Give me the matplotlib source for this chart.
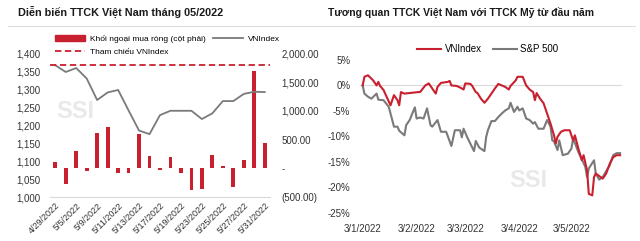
import matplotlib
matplotlib.use('Agg')
import matplotlib.pyplot as plt
import matplotlib.dates as mdates
import matplotlib.ticker as mticker
from matplotlib.lines import Line2D
from matplotlib.patches import Patch
import pandas as pd

plt.rcParams['font.family'] = ['Liberation Sans Narrow', 'Liberation Sans', 'DejaVu Sans']

RED = '#c8202f'
GRAY = '#7a7a7a'
LIGHT = '#d9d9d9'

# ---- left chart: May 2022 ----
days = ['4/29/2022', '5/4/2022', '5/5/2022', '5/6/2022', '5/9/2022', '5/10/2022',
        '5/11/2022', '5/12/2022', '5/13/2022', '5/16/2022', '5/17/2022', '5/18/2022',
        '5/19/2022', '5/20/2022', '5/23/2022', '5/24/2022', '5/25/2022', '5/26/2022',
        '5/27/2022', '5/30/2022', '5/31/2022']
vnindex_may = [1366.8, 1348, 1359, 1330, 1270, 1291, 1298, 1241, 1185, 1175, 1228,
               1240, 1240, 1240, 1217, 1233, 1267, 1267, 1287, 1293, 1292]
foreign_net = [116, -272, 295, -40, 618, 723, -75, -87, 590, 214, -35,
               197, -81, -370, -353, 231, 40, -324, 145, 1700, 445]
vnindex_ref = 1366.8

# ---- right chart: % change since start of year ----
vn_dates = ['01-03', '01-04', '01-06', '01-09', '01-11', '01-12', '01-13', '01-15', '01-17',
            '01-19', '01-21', '01-23', '01-24', '01-25', '01-27',
            '02-04', '02-05', '02-08', '02-10', '02-14', '02-15', '02-17', '02-21', '02-22',
            '02-23', '02-26', '02-28', '03-02',
            '03-03', '03-06', '03-07', '03-09', '03-10', '03-12', '03-14', '03-16', '03-18',
            '03-20', '03-22', '03-26', '03-28', '03-29', '04-01', '04-02',
            '04-05', '04-07', '04-09', '04-11', '04-12', '04-13', '04-15', '04-17', '04-19',
            '04-21', '04-23', '04-24', '04-25', '04-27', '04-29', '05-02',
            '05-04', '05-05', '05-07', '05-09', '05-10', '05-12', '05-13', '05-15', '05-16',
            '05-17', '05-21', '05-23', '05-25', '05-27', '05-29', '05-31']
vn_pct = [0.0, 1.7, 2.0, 1.0, 0.0, 0.7, -0.1, -0.9, -2.4, -3.9, -1.9, -2.9, -3.9, -1.3, -1.6,
          -1.3, -1.3, 0.0, 0.4, -1.6, -0.3, 0.5, 0.7, 0.9, 0.0, -0.1, -0.4, -0.8,
          0.4, 0.3, -0.1, -1.3, -1.5, -2.6, -3.4, -2.6, -1.6, -0.6, 0.3, -0.3, -0.8, -0.1, 1.0, 1.7,
          1.7, 0.0, -0.8, -1.3, -2.9, -1.5, -2.6, -3.5, -5.5, -7.5, -9.8, -11.4, -10.1, -9.1, -8.8, -8.8,
          -10.8, -9.8, -12.4, -14.7, -13.7, -16.7, -21.3, -21.6, -18.0, -17.3, -18.3, -17.3, -15.4,
          -14.1, -13.7, -13.7]
sp_dates = ['01-03', '01-04', '01-06', '01-08', '01-11', '01-12', '01-15', '01-18', '01-20',
            '01-21', '01-23', '01-24', '01-27', '01-28', '01-30', '02-02',
            '02-03', '02-05', '02-07', '02-09', '02-11', '02-12', '02-15', '02-17', '02-20',
            '02-23', '02-25', '02-28', '03-01', '03-02',
            '03-04', '03-08', '03-09', '03-11', '03-14', '03-15', '03-16', '03-18', '03-20',
            '03-22', '03-24', '03-26', '03-28', '03-29', '03-31', '04-02',
            '04-03', '04-05', '04-07', '04-09', '04-11', '04-12', '04-14', '04-17', '04-19',
            '04-21', '04-22', '04-23', '04-25', '04-26', '04-28', '05-01',
            '05-03', '05-04', '05-07', '05-11', '05-12', '05-13', '05-16', '05-17', '05-19',
            '05-21', '05-25', '05-27', '05-29', '05-31']
sp_pct = [0.0, -1.6, -2.2, -2.6, -1.6, -2.8, -2.9, -4.2, -6.8, -8.1, -8.1, -8.9, -9.8, -7.8,
          -6.8, -4.3,
          -6.5, -6.3, -6.5, -4.5, -7.8, -8.1, -6.8, -9.1, -9.1, -11.9, -8.8, -8.8, -10.2, -8.5,
          -10.1, -12.9, -10.9, -12.2, -12.9, -10.1, -8.8, -7.0, -7.0, -6.2, -5.5, -4.9, -4.5,
          -3.4, -5.2, -4.2,
          -4.9, -4.5, -6.5, -6.8, -7.5, -7.2, -8.5, -8.5, -6.8, -8.1, -10.8, -11.0, -12.7,
          -10.8, -13.7, -13.4,
          -12.4, -10.4, -13.1, -16.0, -18.0, -16.3, -14.7, -17.3, -18.5, -18.0, -15.7, -13.7,
          -13.3, -13.3]
month_ticks = ['2022-01-03', '2022-02-03', '2022-03-03', '2022-04-03', '2022-05-03']

fig = plt.figure(figsize=(6.4, 2.41), dpi=100)

# titles and separator
fig.text(18 / 640, 1 - 12 / 241, 'Diễn biến TTCK Việt Nam tháng 05/2022',
         fontsize=7.8, fontweight='bold', va='center', ha='left', color='#1a1a1a')
fig.text(328 / 640, 1 - 12 / 241, 'Tương quan TTCK Việt Nam với TTCK Mỹ từ đầu năm',
         fontsize=7.5, fontweight='bold', va='center', ha='left', color='#1a1a1a')
fig.add_artist(Line2D([8 / 640, 635 / 640], [1 - 25.5 / 241] * 2, color='#dedede', lw=0.8))

# ---- left ----
ax = fig.add_axes([50 / 640, 1 - 197 / 241, 220 / 640, (197 - 53.3) / 241])
ax2 = ax.twinx()
x = list(range(len(days)))
ax2.bar(x, foreign_net, width=0.36, color=RED)
ax2.set_ylim(-500, 2000)
ax2.yaxis.set_major_locator(mticker.MultipleLocator(500))


def money(v, pos):
    if v == 0:
        return '-'
    if v < 0:
        return f'({abs(v):,.2f})'
    return f'{v:,.2f}'


ax2.yaxis.set_major_formatter(mticker.FuncFormatter(money))

ax.set_zorder(ax2.get_zorder() + 1)
ax.patch.set_visible(False)
ax.plot(x, vnindex_may, color=GRAY, lw=1.3)
ax.axhline(vnindex_ref, color=RED, lw=1.3, ls=(0, (3.5, 2)), clip_on=False)
ax.set_ylim(1000, 1400)
ax.set_xlim(-0.5, len(days) - 0.5)
ax.yaxis.set_major_locator(mticker.MultipleLocator(50))
ax.yaxis.set_major_formatter(mticker.FuncFormatter(lambda v, p: f'{v:,.0f}'))
ax.set_xticks(x[::2])
ax.set_xticklabels(days[::2], rotation=45, ha='right', va='top', rotation_mode='anchor')

for a in (ax, ax2):
    for s in a.spines.values():
        s.set_visible(False)
    a.tick_params(length=0, labelsize=7, colors='#333333')
ax.spines['bottom'].set_visible(True)
ax.spines['bottom'].set_color(LIGHT)
ax.tick_params(axis='y', pad=7)
ax.tick_params(axis='x', pad=3, labelsize=6.5)
ax2.tick_params(axis='y', pad=8)

ax.text(0.03, 0.55, 'SSI', transform=ax.transAxes, fontsize=17, fontweight='bold',
        color='#e9e9e9', zorder=0)

handles = [Patch(color=RED), Line2D([], [], color=RED, lw=1.3, ls=(0, (3.5, 2))),
           Line2D([], [], color=GRAY, lw=1.3)]
labels = ['Khối ngoại mua ròng (cột phải)', 'Tham chiếu VNIndex', 'VNIndex']
fig.legend(handles, labels, ncol=2, loc='upper left', bbox_to_anchor=(55 / 640, 1 - 35 / 241),
           frameon=False, fontsize=6, handlelength=3.6, handleheight=0.6, columnspacing=0.9,
           labelspacing=0.6, borderaxespad=0, borderpad=0, handletextpad=0.6)

# ---- right ----
bx = fig.add_axes([360 / 640, 1 - 212.7 / 241, 262 / 640, (212.7 - 60) / 241])
vn_x = pd.to_datetime(['2022-' + d for d in vn_dates])
sp_x = pd.to_datetime(['2022-' + d for d in sp_dates])
bx.axhline(0, color=LIGHT, lw=0.8, zorder=0)
bx.plot(sp_x, sp_pct, color=GRAY, lw=1.5)
bx.plot(vn_x, vn_pct, color=RED, lw=1.5)
bx.set_ylim(-25, 5)
bx.set_xlim(pd.Timestamp('2022-01-01 11:00'), pd.Timestamp('2022-06-01 02:00'))
bx.yaxis.set_major_locator(mticker.MultipleLocator(5))
bx.yaxis.set_major_formatter(mticker.FuncFormatter(lambda v, p: f'{v:.0f}%'))
bx.set_xticks(pd.to_datetime(month_ticks))
bx.xaxis.set_major_formatter(mdates.DateFormatter('%-d/%-m/%Y'))
for s in bx.spines.values():
    s.set_visible(False)
bx.tick_params(length=0, labelsize=7, colors='#333333')
bx.tick_params(axis='y', pad=7)
bx.tick_params(axis='x', pad=8)
bx.text(0.57, 0.17, 'SSI', transform=bx.transAxes, fontsize=17, fontweight='bold',
        color='#e9e9e9', zorder=0)

fig.legend([Line2D([], [], color=RED, lw=1.5), Line2D([], [], color=GRAY, lw=1.5)],
           ['VNIndex', 'S&P 500'], ncol=2, loc='center', bbox_to_anchor=(488 / 640, 1 - 49 / 241),
           frameon=False, fontsize=7, handlelength=2.4, columnspacing=1.2, handletextpad=0.4,
           borderaxespad=0, borderpad=0)

fig.savefig('out.png', dpi=100)
